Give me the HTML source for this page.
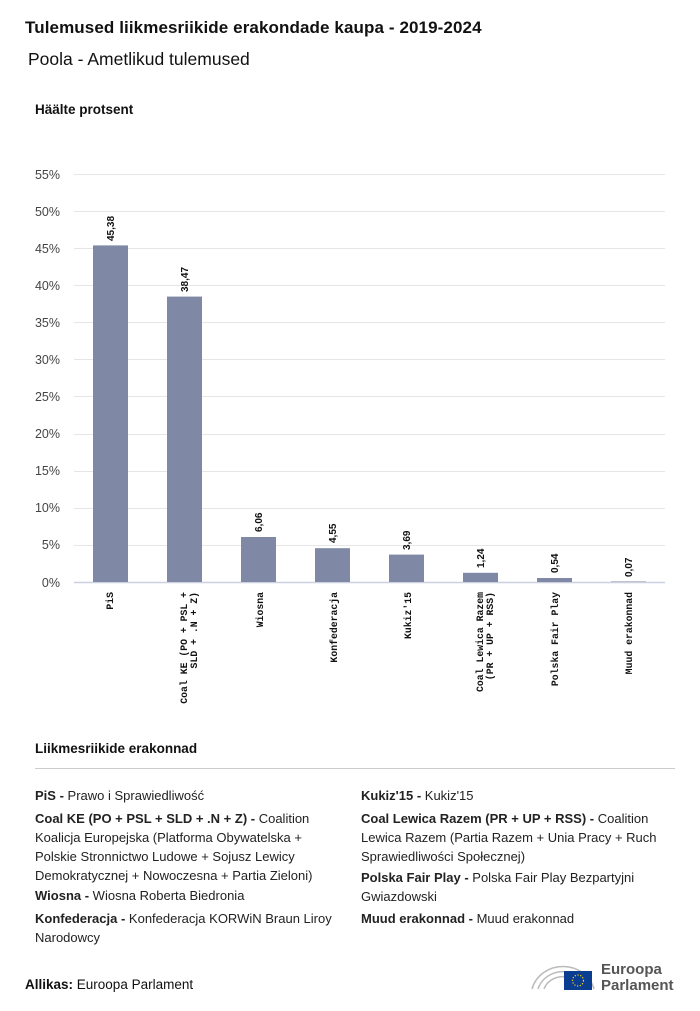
<!DOCTYPE html>
<html><head><meta charset="utf-8"><style>
body{margin:0;width:700px;height:1011px;background:#fff;font-family:"Liberation Sans",sans-serif;color:#111;position:relative;overflow:hidden}
.a{position:absolute;white-space:nowrap}
.leg{position:absolute;font-size:13px;line-height:19px;color:#222}
.leg b{font-weight:bold}
</style></head><body>
<div class="a" style="left:25px;top:18px;font-size:17px;font-weight:bold;letter-spacing:0.1px">Tulemused liikmesriikide erakondade kaupa - 2019-2024</div>
<div class="a" style="left:28px;top:49px;font-size:17.5px">Poola - Ametlikud tulemused</div>
<div class="a" style="left:35px;top:102px;font-size:13.5px;font-weight:bold">Häälte protsent</div>
<svg class="a" style="left:0;top:0" width="700" height="740">
<g stroke="#e6e6e6" stroke-width="1">
<line x1="74" x2="665" y1="174.5" y2="174.5"/><line x1="74" x2="665" y1="211.5" y2="211.5"/>
<line x1="74" x2="665" y1="248.5" y2="248.5"/><line x1="74" x2="665" y1="285.5" y2="285.5"/>
<line x1="74" x2="665" y1="322.5" y2="322.5"/><line x1="74" x2="665" y1="359.5" y2="359.5"/>
<line x1="74" x2="665" y1="396.5" y2="396.5"/><line x1="74" x2="665" y1="434.5" y2="434.5"/>
<line x1="74" x2="665" y1="471.5" y2="471.5"/><line x1="74" x2="665" y1="508.5" y2="508.5"/>
<line x1="74" x2="665" y1="545.5" y2="545.5"/>
</g>
<line x1="74" x2="665" y1="582.5" y2="582.5" stroke="#ccd0e0" stroke-width="1.5"/>
<g font-family="Liberation Sans" font-size="12.5" fill="#444" text-anchor="end">
<text x="60" y="179">55%</text><text x="60" y="216">50%</text><text x="60" y="253">45%</text>
<text x="60" y="290">40%</text><text x="60" y="327">35%</text><text x="60" y="364">30%</text>
<text x="60" y="401">25%</text><text x="60" y="438">20%</text><text x="60" y="475">15%</text>
<text x="60" y="512">10%</text><text x="60" y="549">5%</text><text x="60" y="587">0%</text>
</g>
<g fill="#7f88a4">
<rect x="93" y="245.4" width="35" height="336.6"/>
<rect x="167" y="296.6" width="35" height="285.4"/>
<rect x="241" y="537" width="35" height="45"/>
<rect x="315" y="548.2" width="35" height="33.8"/>
<rect x="389" y="554.6" width="35" height="27.4"/>
<rect x="463" y="572.8" width="35" height="9.2"/>
<rect x="537" y="578" width="35" height="4"/>
<rect x="611" y="581.5" width="35" height="0.5"/>
</g>
<g font-family="Liberation Sans" font-size="10" font-weight="bold" fill="#111">
<text transform="translate(114,241) rotate(-90)">45,38</text>
<text transform="translate(188,292) rotate(-90)">38,47</text>
<text transform="translate(262,532) rotate(-90)">6,06</text>
<text transform="translate(336,543) rotate(-90)">4,55</text>
<text transform="translate(410,550) rotate(-90)">3,69</text>
<text transform="translate(484,568) rotate(-90)">1,24</text>
<text transform="translate(558,573) rotate(-90)">0,54</text>
<text transform="translate(632,577) rotate(-90)">0,07</text>
</g>
<g font-family="Liberation Mono" font-size="9.8" font-weight="bold" fill="#111" text-anchor="end">
<text transform="translate(113,592) rotate(-90)">PiS</text>
<text transform="translate(187,592) rotate(-90)">Coal KE (PO + PSL +</text>
<text transform="translate(197,592) rotate(-90)">SLD + .N + Z)</text>
<text transform="translate(263,592) rotate(-90)">Wiosna</text>
<text transform="translate(337,592) rotate(-90)">Konfederacja</text>
<text transform="translate(411,592) rotate(-90)">Kukiz'15</text>
<text transform="translate(483,592) rotate(-90)">Coal Lewica Razem</text>
<text transform="translate(493,592) rotate(-90)">(PR + UP + RSS)</text>
<text transform="translate(558,592) rotate(-90)">Polska Fair Play</text>
<text transform="translate(632,592) rotate(-90)">Muud erakonnad</text>
</g>
</svg>
<div class="a" style="left:35px;top:741px;font-size:13.5px;font-weight:bold">Liikmesriikide erakonnad</div>
<div class="a" style="left:35px;top:768px;width:640px;height:1px;background:#ccc"></div>
<div class="leg" style="left:35px;top:786px;width:315px"><b>PiS -</b> Prawo i Sprawiedliwość</div>
<div class="leg" style="left:35px;top:809px;width:300px;white-space:normal"><b>Coal KE (PO + PSL + SLD + .N + Z) -</b> Coalition Koalicja Europejska (Platforma Obywatelska + Polskie Stronnictwo Ludowe + Sojusz Lewicy Demokratycznej + Nowoczesna + Partia Zieloni)</div>
<div class="leg" style="left:35px;top:886px"><b>Wiosna -</b> Wiosna Roberta Biedronia</div>
<div class="leg" style="left:35px;top:909px;width:315px"><b>Konfederacja -</b> Konfederacja KORWiN Braun Liroy Narodowcy</div>
<div class="leg" style="left:361px;top:786px"><b>Kukiz'15 -</b> Kukiz'15</div>
<div class="leg" style="left:361px;top:809px;width:300px"><b>Coal Lewica Razem (PR + UP + RSS) -</b> Coalition Lewica Razem (Partia Razem + Unia Pracy + Ruch Sprawiedliwości Społecznej)</div>
<div class="leg" style="left:361px;top:868px;width:300px"><b>Polska Fair Play -</b> Polska Fair Play Bezpartyjni Gwiazdowski</div>
<div class="leg" style="left:361px;top:909px"><b>Muud erakonnad -</b> Muud erakonnad</div>
<div class="a" style="left:25px;top:977px;font-size:13.5px"><b>Allikas:</b> Euroopa Parlament</div>
<svg class="a" style="left:528px;top:953px" width="70" height="40">
<g fill="none" stroke="#bbb" stroke-width="1.5">
<path d="M4 36 A32 30 0 0 1 66 36"/><path d="M10 36 A26 24 0 0 1 60 36"/><path d="M16 36 A20 18 0 0 1 54 36"/>
</g>
<rect x="36" y="18" width="28" height="19" fill="#0b3d91"/>
<circle cx="50" cy="27.5" r="5.5" fill="none" stroke="#ffd700" stroke-width="1.2" stroke-dasharray="1.2 1.6"/>
</svg>
<div class="a" style="left:601px;top:962px;font-size:15px;line-height:16px;color:#555;font-weight:bold">Euroopa<br>Parlament</div>
</body></html>
